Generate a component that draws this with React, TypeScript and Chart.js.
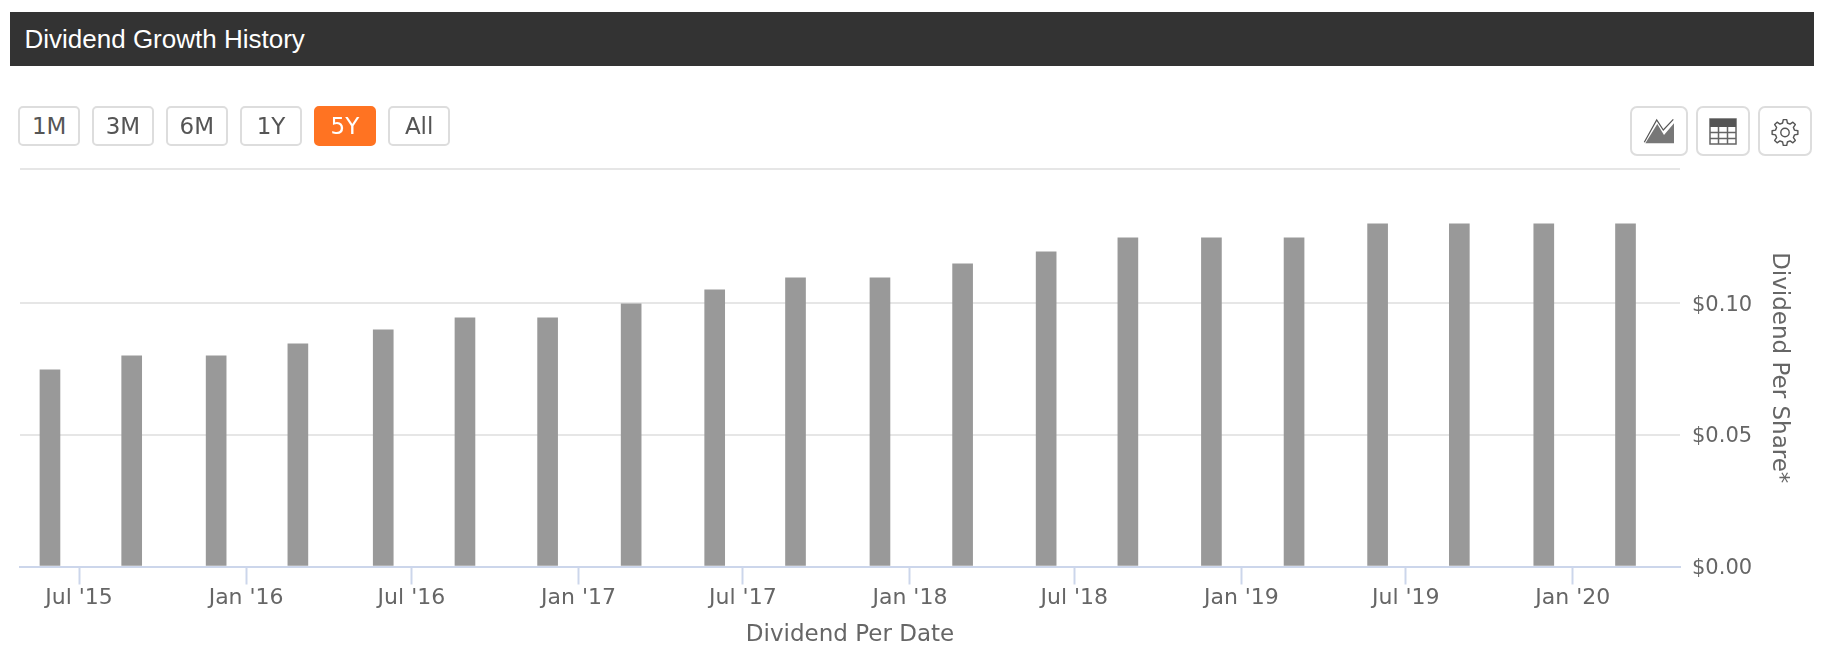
import React, { useEffect, useRef } from "react";
import { Chart, registerables } from "chart.js";

Chart.register(...registerables);

const payDates = [
  "2015-05-30", "2015-08-28", "2015-11-29", "2016-02-27", "2016-05-31",
  "2016-08-29", "2016-11-28", "2017-02-28", "2017-05-31", "2017-08-28",
  "2017-11-29", "2018-02-28", "2018-05-31", "2018-08-29", "2018-11-29",
  "2019-02-28", "2019-05-31", "2019-08-29", "2019-11-30", "2020-02-28",
];
const dividends = [
  0.0745, 0.0798, 0.0798, 0.0844, 0.0897, 0.0942, 0.0942, 0.0995, 0.1048, 0.1094,
  0.1094, 0.1147, 0.1192, 0.1245, 0.1245, 0.1245, 0.1298, 0.1298, 0.1298, 0.1298,
];
const tickDates = [
  "2015-07-01", "2016-01-01", "2016-07-01", "2017-01-01", "2017-07-01",
  "2018-01-01", "2018-07-01", "2019-01-01", "2019-07-01", "2020-01-01",
];
const tickLabels = [
  "Jul '15", "Jan '16", "Jul '16", "Jan '17", "Jul '17",
  "Jan '18", "Jul '18", "Jan '19", "Jul '19", "Jan '20",
];
const yTickValues = [0, 0.05, 0.1];
const yAxisTop = 0.1506;
const rangeButtons = ["1M", "3M", "6M", "1Y", "5Y", "All"];
const buttonLefts = [18.4, 92.2, 166, 240.3, 314.2, 388.4];
const activeRange = "5Y";
const axisStart = "2015-04-27";
const axisEnd = "2020-04-28";

const day = (s: string) => Date.parse(s + "T00:00:00Z") / 86400000;
const FONT = '"DejaVu Sans", sans-serif';

const iconBox = (left: number, width: number): React.CSSProperties => ({
  position: "absolute",
  left,
  top: 106,
  width,
  height: 49.5,
  boxSizing: "border-box",
  border: "2px solid #ddd",
  borderRadius: 7,
  background: "#fff",
});

function gearPath(cx: number, cy: number) {
  const teeth = 8;
  const pts: string[] = [];
  for (let i = 0; i < teeth; i++) {
    const a = (i / teeth) * Math.PI * 2;
    const w = Math.PI / teeth;
    const at = (r: number, t: number) =>
      `${(cx + r * Math.cos(t)).toFixed(2)} ${(cy + r * Math.sin(t)).toFixed(2)}`;
    pts.push(at(9.8, a - w * 0.62), at(13, a - w * 0.34), at(13, a + w * 0.34), at(9.8, a + w * 0.62));
  }
  return "M" + pts.join(" L") + " Z";
}

export default function App() {
  const ref = useRef<HTMLCanvasElement>(null);
  useEffect(() => {
    const chart = new Chart(ref.current!, {
      type: "bar",
      data: {
        datasets: [
          {
            data: payDates.map((d, i) => ({ x: day(d), y: dividends[i] })),
            backgroundColor: "#999999",
            barThickness: 20,
            borderWidth: 0,
          },
        ],
      },
      options: {
        animation: false,
        responsive: false,
        layout: { padding: { left: 20, top: 169, right: 0, bottom: 0 } },
        plugins: { legend: { display: false }, tooltip: { enabled: false } },
        scales: {
          x: {
            type: "linear",
            offset: false,
            min: day(axisStart),
            max: day(axisEnd),
            afterBuildTicks: (s: any) => {
              s.ticks = tickDates.map((d) => ({ value: day(d) }));
            },
            afterFit: (s: any) => {
              s.height = 103.5;
            },
            grid: {
              offset: false,
              drawOnChartArea: false,
              drawTicks: true,
              tickLength: 18,
              tickColor: "#ccd6eb",
              tickWidth: 2,
            },
            border: { color: "#ccd6eb", width: 2 },
            ticks: {
              autoSkip: false,
              maxRotation: 0,
              padding: 1,
              color: "#666666",
              font: { family: FONT, size: 22 },
              callback: (v: any) => {
                const i = tickDates.findIndex((d) => day(d) === v);
                return i >= 0 ? tickLabels[i] : "";
              },
            },
            title: {
              display: true,
              text: "Dividend Per Date",
              color: "#666666",
              font: { family: FONT, size: 23 },
              padding: { top: 0, bottom: 21 },
            },
          },
          y: {
            position: "right",
            min: 0,
            max: yAxisTop,
            afterBuildTicks: (s: any) => {
              s.ticks = [...yTickValues, yAxisTop].map((value) => ({ value }));
            },
            afterFit: (s: any) => {
              s.width = 146;
            },
            grid: { color: "#e6e6e6", lineWidth: 2, drawTicks: false },
            border: { display: false },
            ticks: {
              padding: 12,
              labelOffset: 2.5,
              color: "#666666",
              font: { family: FONT, size: 21 },
              callback: (v: any) => (yTickValues.includes(v) ? "$" + Number(v).toFixed(2) : ""),
            },
            title: {
              display: true,
              text: "Dividend Per Share*",
              color: "#666666",
              font: { family: FONT, size: 23 },
              padding: { top: 33.5, bottom: 0 },
            },
          },
        },
      },
    });
    return () => chart.destroy();
  }, []);

  return (
    <div style={{ position: "absolute", left: 0, top: 0, width: 1826, height: 670, background: "#fff", overflow: "hidden" }}>
      <canvas ref={ref} width={1826} height={670} style={{ position: "absolute", left: 0, top: 0, display: "block" }} />
      <div
        style={{
          position: "absolute",
          left: 10,
          top: 12,
          width: 1804,
          height: 54,
          background: "#333333",
          color: "#fff",
          font: '26px "Liberation Sans", Arial, sans-serif',
          lineHeight: "54px",
          paddingLeft: 14.5,
          boxSizing: "border-box",
        }}
      >
        Dividend Growth History
      </div>
      {rangeButtons.map((b, i) => {
        const active = b === activeRange;
        return (
          <div
            key={b}
            style={{
              position: "absolute",
              left: buttonLefts[i],
              top: 106,
              width: 61.5,
              height: 40,
              boxSizing: "border-box",
              border: active ? "2px solid #ff7322" : "2px solid #ddd",
              borderRadius: 5,
              background: active ? "#ff7322" : "#fff",
              color: active ? "#fff" : "#555",
              font: `23px ${FONT}`,
              lineHeight: "36px",
              textAlign: "center",
            }}
          >
            {b}
          </div>
        );
      })}
      <div style={iconBox(1630, 58)}>
        <svg width="54" height="46" viewBox="0 0 54 46" style={{ display: "block" }}>
          <path d="M13.3 35.3 L25.3 16 L32 27 L42 15.3 V35.3 Z" fill="#777" />
          <path d="M12.3 34.3 L24.7 12 L31.3 22 L41.3 11.3" fill="none" stroke="#555" strokeWidth="1.2" />
        </svg>
      </div>
      <div style={iconBox(1696, 53.5)}>
        <svg width="50" height="46" viewBox="0 0 50 46" style={{ display: "block" }}>
          <rect x="12" y="11" width="26" height="25" fill="#fff" stroke="#666" strokeWidth="1.5" />
          <rect x="12" y="11" width="26" height="8" fill="#555" />
          <path d="M20.5 19 V36 M29.5 19 V36 M12 24.5 H38 M12 30.5 H38" stroke="#666" strokeWidth="1.5" />
        </svg>
      </div>
      <div style={iconBox(1758, 53.5)}>
        <svg width="50" height="46" viewBox="0 0 50 46" style={{ display: "block" }}>
          <path d={gearPath(25, 24.5)} fill="#fff" stroke="#555" strokeWidth="1.4" strokeLinejoin="round" />
          <circle cx="25" cy="24.5" r="4.2" fill="none" stroke="#555" strokeWidth="1.4" />
        </svg>
      </div>
    </div>
  );
}
